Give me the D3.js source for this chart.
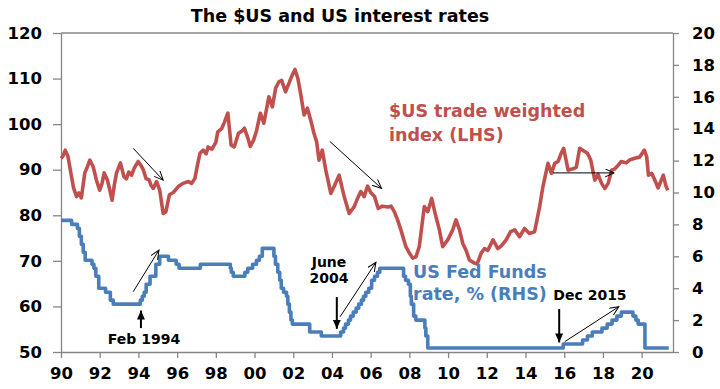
<!DOCTYPE html>
<html lang="en">
<head>
  <meta charset="UTF-8">
  <title>The $US and US interest rates</title>
  <script src="https://d3js.org/d3.v7.min.js"></script>
  <style>
    body { margin: 0; background: #fff; }
    svg { display: block; font-family: "DejaVu Sans", sans-serif; font-weight: bold; }
    .axis path, .axis line { stroke: #868686; stroke-width: 1.3; }
    .axis text { font-size: 16.5px; font-weight: bold; fill: #000; font-family: "DejaVu Sans", sans-serif; }
  </style>
</head>
<body>
<div class="main"></div>
<script>
  let width = 720;
  let height = 389;

  // $US trade weighted index (LHS), decimal year / index
  let twiDates = [1990.0, 1990.1, 1990.22, 1990.36, 1990.5, 1990.65, 1990.8, 1990.92, 1991.05, 1991.23, 1991.35, 1991.49, 1991.66, 1991.83,
    1992.0, 1992.12, 1992.23, 1992.4, 1992.55, 1992.64, 1992.75, 1992.87, 1993.07, 1993.25, 1993.38, 1993.5, 1993.65, 1993.8, 1993.99,
    1994.12, 1994.25, 1994.4, 1994.55, 1994.65, 1994.77, 1994.94, 1995.1, 1995.28, 1995.42, 1995.6, 1995.8, 1996.06, 1996.3, 1996.58,
    1996.75, 1996.92, 1997.05, 1997.18, 1997.35, 1997.5, 1997.6, 1997.8, 1998.0, 1998.1, 1998.3, 1998.45, 1998.62, 1998.79, 1998.95,
    1999.17, 1999.35, 1999.48, 1999.65, 1999.78, 1999.95, 2000.1, 2000.3, 2000.48, 2000.74, 2000.92, 2001.09, 2001.26, 2001.4, 2001.6,
    2001.78, 2001.95, 2002.09, 2002.24, 2002.38, 2002.56, 2002.73, 2002.9, 2003.07, 2003.21, 2003.33, 2003.5, 2003.68, 2003.94, 2004.11,
    2004.37, 2004.63, 2004.89, 2005.15, 2005.32, 2005.49, 2005.66, 2005.84, 2006.0, 2006.2, 2006.39, 2006.6, 2006.9, 2007.05, 2007.22,
    2007.39, 2007.56, 2007.82, 2008.0, 2008.17, 2008.34, 2008.51, 2008.77, 2008.95, 2009.15, 2009.33, 2009.55, 2009.72, 2009.98, 2010.24,
    2010.41, 2010.59, 2010.76, 2010.93, 2011.1, 2011.36, 2011.5, 2011.71, 2011.88, 2012.05, 2012.32, 2012.57, 2012.75, 2013.0, 2013.23,
    2013.44, 2013.69, 2013.95, 2014.2, 2014.47, 2014.73, 2014.9, 2015.16, 2015.34, 2015.51, 2015.68, 2015.83, 2015.97, 2016.2, 2016.45,
    2016.62, 2016.8, 2016.98, 2017.2, 2017.37, 2017.58, 2017.75, 2017.93, 2018.1, 2018.27, 2018.45, 2018.62, 2018.79, 2018.95, 2019.2,
    2019.4, 2019.65, 2019.9, 2020.14, 2020.26, 2020.35, 2020.52, 2020.7, 2020.85, 2021.12, 2021.25, 2021.35];
  let twiValues = [92.5, 93.0, 94.3, 92.9, 89.5, 86.0, 84.1, 84.9, 83.8, 89.3, 90.5, 92.1, 90.7, 87.7,
    85.5, 87.0, 89.3, 87.7, 85.0, 83.3, 86.5, 89.3, 91.5, 88.5, 88.0, 89.5, 88.8, 90.5, 91.8,
    91.0, 90.0, 88.0, 87.8, 86.6, 85.9, 87.4, 85.5, 80.4, 80.8, 84.5, 85.0, 86.3, 87.0, 87.4,
    87.0, 88.1, 91.0, 93.6, 94.3, 93.5, 95.0, 94.5, 96.0, 98.3, 99.0, 100.5, 102.4, 95.4, 95.0,
    98.0, 98.5, 99.1, 97.0, 95.1, 96.5, 98.5, 102.4, 100.2, 106.0, 103.8, 107.9, 109.3, 109.6, 107.1,
    109.0, 110.8, 112.0, 110.0, 106.7, 102.0, 103.5, 100.9, 98.0, 96.1, 92.1, 94.3, 89.9, 84.8, 86.3,
    88.8, 84.1, 80.4, 81.9, 83.7, 85.2, 84.1, 86.4, 85.0, 84.1, 81.5, 82.0, 81.8, 82.0, 80.8,
    79.0, 76.8, 73.1, 71.7, 70.6, 70.9, 73.1, 81.9, 80.8, 83.7, 80.4, 76.8, 73.1, 74.6, 76.8,
    79.0, 76.8, 73.8, 72.3, 70.2, 69.5, 69.3, 71.7, 72.7, 72.3, 74.6, 72.7, 73.3, 74.6, 76.4,
    76.8, 75.3, 77.1, 76.0, 76.4, 81.9, 86.3, 91.4, 89.2, 91.4, 91.8, 93.5, 94.7, 89.9, 90.2,
    90.5, 94.7, 94.2, 93.6, 92.1, 87.7, 89.0, 87.0, 85.9, 87.0, 89.9, 90.2, 91.0, 91.8, 91.5,
    92.2, 92.5, 92.8, 94.3, 92.9, 88.8, 89.2, 87.5, 86.0, 88.8, 86.5, 85.5];

  // US Fed Funds rate (RHS), decimal year of each change / rate %
  let fedDates = [1990.0, 1990.55, 1990.85, 1990.95, 1991.05, 1991.15, 1991.25, 1991.6, 1991.7, 1991.8, 1991.95, 1992.3, 1992.55, 1992.7,
    1994.1, 1994.2, 1994.3, 1994.4, 1994.6, 1994.9, 1995.1, 1995.55, 1995.95, 1996.1, 1997.2, 1998.75, 1998.8, 1998.9, 1999.5, 1999.65,
    1999.9, 2000.1, 2000.25, 2000.4, 2001.0, 2001.08, 2001.2, 2001.3, 2001.38, 2001.5, 2001.65, 2001.72, 2001.8, 2001.88, 2001.95,
    2002.85, 2003.45, 2004.45, 2004.6, 2004.7, 2004.85, 2004.96, 2005.1, 2005.25, 2005.38, 2005.52, 2005.63, 2005.75, 2005.9, 2006.05,
    2006.2, 2006.35, 2006.47, 2007.7, 2007.8, 2007.95, 2008.05, 2008.1, 2008.22, 2008.33, 2008.8, 2008.85, 2008.95, 2015.95, 2016.95,
    2017.2, 2017.45, 2017.95, 2018.22, 2018.47, 2018.72, 2018.95, 2019.55, 2019.7, 2019.82, 2020.17, 2021.4];
  let fedRates = [8.25, 8.0, 7.75, 7.25, 6.75, 6.25, 5.75, 5.5, 5.25, 4.75, 4.0, 3.75, 3.25, 3.0,
    3.25, 3.5, 3.75, 4.25, 4.75, 5.5, 6.0, 5.75, 5.5, 5.25, 5.5, 5.25, 5.0, 4.75, 5.0, 5.25,
    5.5, 5.75, 6.0, 6.5, 6.0, 5.5, 5.0, 4.5, 4.0, 3.75, 3.5, 3.0, 2.5, 2.0, 1.75,
    1.25, 1.0, 1.25, 1.5, 1.75, 2.0, 2.25, 2.5, 2.75, 3.0, 3.25, 3.5, 3.75, 4.0, 4.5,
    4.75, 5.0, 5.25, 4.75, 4.5, 4.25, 3.5, 3.0, 2.25, 2.0, 1.5, 1.0, 0.25, 0.5, 0.75,
    1.0, 1.25, 1.5, 1.75, 2.0, 2.25, 2.5, 2.25, 2.0, 1.75, 0.25, 0.25];

  let xTicks = d3.range(1990, 2021, 2);
  let leftTicks = [50, 60, 70, 80, 90, 100, 110, 120];
  let rightTicks = [0, 2, 4, 6, 8, 10, 12, 14, 16, 18, 20];

  let xScale = d3.scaleLinear().domain([1990, 2021.62]).range([61, 673]);
  let yLeft = d3.scaleLinear().domain([50, 120]).range([352, 33]);
  let yRight = d3.scaleLinear().domain([0, 20]).range([352, 33]);

  let svg = d3.select(".main")
          .append("svg")
          .attr("width", width)
          .attr("height", height);

  let defs = svg.append("defs");
  defs.append("marker").attr("id", "open")
          .attr("markerUnits", "userSpaceOnUse")
          .attr("markerWidth", 12).attr("markerHeight", 12)
          .attr("refX", 9).attr("refY", 4).attr("orient", "auto")
          .append("path").attr("d", "M0,0 L9,4 L0,8")
          .attr("fill", "none").attr("stroke", "#000").attr("stroke-width", 1);
  defs.append("marker").attr("id", "solid")
          .attr("markerUnits", "userSpaceOnUse")
          .attr("markerWidth", 12).attr("markerHeight", 12)
          .attr("refX", 9).attr("refY", 4).attr("orient", "auto")
          .append("path").attr("d", "M0,0 L9,4 L0,8 Z").attr("fill", "#000");

  // axes
  svg.append("g").attr("class", "axis")
          .attr("transform", "translate(0,352)")
          .call(d3.axisBottom(xScale).tickValues(xTicks).tickSize(6).tickSizeOuter(0).tickPadding(9)
                  .tickFormat(d => String(d % 100).padStart(2, "0")));
  svg.append("g").attr("class", "axis")
          .attr("transform", "translate(61,0)")
          .call(d3.axisLeft(yLeft).tickValues(leftTicks).tickSize(8).tickSizeOuter(0).tickPadding(11));
  svg.append("g").attr("class", "axis")
          .attr("transform", "translate(673,0)")
          .call(d3.axisRight(yRight).tickValues(rightTicks).tickSize(6).tickSizeOuter(0).tickPadding(13));
  svg.append("line")
          .attr("x1", xScale(1990)).attr("x2", xScale(2021.62))
          .attr("y1", yLeft(120)).attr("y2", yLeft(120))
          .attr("stroke", "#868686").attr("stroke-width", 1.3);

  // series
  let fedLine = d3.line()
          .x((d, i) => xScale(fedDates[i]))
          .y(d => yRight(d))
          .curve(d3.curveStepAfter);
  svg.append("path")
          .attr("d", fedLine(fedRates))
          .attr("fill", "none").attr("stroke", "#4a7ebb").attr("stroke-width", 3.6)
          .attr("stroke-linejoin", "round");

  let twiLine = d3.line()
          .x((d, i) => xScale(twiDates[i]))
          .y(d => yLeft(d));
  svg.append("path")
          .attr("d", twiLine(twiValues))
          .attr("fill", "none").attr("stroke", "#c0504d").attr("stroke-width", 3.6)
          .attr("stroke-linejoin", "round");

  // thin trend arrows: [x1, y1, x2, y2, axis]
  let trendArrows = [
    [1993.73, 94.7, 1995.28, 87.7, "L"],
    [2003.89, 96.2, 2006.56, 85.9, "L"],
    [2015.42, 89.3, 2018.58, 89.3, "L"],
    [1993.73, 3.78, 1995.06, 6.39, "R"],
    [2004.42, 2.21, 2006.27, 5.62, "R"],
    [2016.03, 0.65, 2018.82, 2.84, "R"]
  ];
  svg.append("g").selectAll("line")
          .data(trendArrows)
          .join("line")
          .attr("x1", d => xScale(d[0]))
          .attr("y1", d => (d[4] === "L" ? yLeft : yRight)(d[1]))
          .attr("x2", d => xScale(d[2]))
          .attr("y2", d => (d[4] === "L" ? yLeft : yRight)(d[3]))
          .attr("stroke", "#000").attr("stroke-width", 1)
          .attr("marker-end", "url(#open)");

  // first-hike arrows (RHS units)
  let hikeArrows = [
    [1994.13, 1.5, 2.6],
    [2004.25, 3.45, 1.45],
    [2015.74, 2.7, 0.6]
  ];
  svg.append("g").selectAll("line")
          .data(hikeArrows)
          .join("line")
          .attr("x1", d => xScale(d[0])).attr("x2", d => xScale(d[0]))
          .attr("y1", d => yRight(d[1])).attr("y2", d => yRight(d[2]))
          .attr("stroke", "#000").attr("stroke-width", 2)
          .attr("marker-end", "url(#solid)");

  // text
  svg.append("text").attr("x", 340).attr("y", 22)
          .attr("text-anchor", "middle").style("font-size", "17.5px")
          .text("The $US and US interest rates");

  let labels = [
    ["$US trade weighted", 389, 117, "#c0504d", 17.5, "start"],
    ["index (LHS)", 389, 141, "#c0504d", 17.5, "start"],
    ["US Fed Funds", 413, 278, "#4a7ebb", 17.5, "start"],
    ["rate, % (RHS)", 413, 300, "#4a7ebb", 17.5, "start"],
    ["Feb 1994", 144, 344, "#000", 14, "middle"],
    ["June", 329, 267, "#000", 14, "middle"],
    ["2004", 329, 283, "#000", 14, "middle"],
    ["Dec 2015", 590, 300, "#000", 14, "middle"]
  ];
  svg.append("g").selectAll("text")
          .data(labels)
          .join("text")
          .attr("x", d => d[1]).attr("y", d => d[2])
          .attr("fill", d => d[3])
          .attr("text-anchor", d => d[5])
          .style("font-size", d => d[4] + "px")
          .text(d => d[0]);
</script>
</body>
</html>
